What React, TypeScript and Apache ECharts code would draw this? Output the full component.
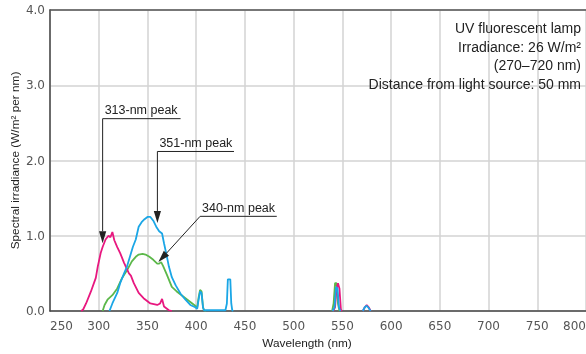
import React, { useEffect, useRef } from 'react';
import * as echarts from 'echarts';

// Wavelength (nm) and spectral irradiance (W/m² per nm)
const peak313Curve: [number, number][] = [
  [282, 0], [284, 0.02], [287, 0.1], [292, 0.26], [297, 0.44], [299, 0.59], [302, 0.77], [304, 0.85],
  [307, 0.95], [310, 1.0], [312, 0.98], [314, 1.05], [316, 0.94], [319, 0.85], [322, 0.77], [326, 0.64],
  [331, 0.5], [333, 0.47], [336, 0.37], [341, 0.24], [346, 0.17], [353, 0.1], [360, 0.08], [363, 0.1],
  [365, 0.16], [367, 0.06], [372, 0.01], [375, 0],
];
const peak313Line546: [number, number][] = [[540.5, 0], [542.5, 0.05], [544, 0.3], [545.5, 0.37], [547, 0.3], [548.5, 0.02], [549.5, 0]];
const peak313Line578: [number, number][] = [[571, 0], [573, 0.05], [575, 0.08], [577, 0.05], [579, 0]];

const peak351Curve: [number, number][] = [
  [311, 0], [314, 0.1], [319, 0.24], [322, 0.37], [326, 0.5], [329, 0.59], [332, 0.72], [335, 0.85],
  [338, 0.95], [341, 1.12], [344, 1.18], [347, 1.22], [350, 1.25], [353, 1.25], [356, 1.2], [359, 1.12],
  [362, 1.06], [365, 1.03], [367, 0.9], [370, 0.72], [372, 0.59], [375, 0.45], [379, 0.34], [384, 0.23],
  [389, 0.15], [394, 0.08], [399, 0.05], [401, 0.03], [402.5, 0.15], [404, 0.26], [405.5, 0.24],
  [407, 0.05], [408, 0.01], [430, 0.01], [431.5, 0.1], [432.5, 0.42], [435, 0.42], [436, 0.1],
  [437, 0.01], [438, 0],
];
const peak351Line546: [number, number][] = [[540, 0], [542, 0.05], [543.5, 0.32], [545, 0.3], [546.5, 0.05], [548, 0]];
const peak351Line578: [number, number][] = [[571, 0], [573, 0.05], [575, 0.07], [577, 0.04], [579, 0]];

const peak340Curve: [number, number][] = [
  [304, 0], [306, 0.08], [309, 0.15], [314, 0.21], [319, 0.3], [324, 0.44], [329, 0.54], [334, 0.66],
  [338, 0.72], [341, 0.75], [345, 0.76], [348, 0.75], [352, 0.72], [356, 0.68], [360, 0.63], [362, 0.63],
  [364, 0.65], [366, 0.6], [370, 0.48], [375, 0.32], [380, 0.26], [387, 0.19], [394, 0.12], [399, 0.07],
  [401, 0.04], [402.5, 0.18], [404, 0.28], [405.5, 0.26], [407, 0.05], [408, 0.01], [410, 0],
];
const peak340Line546: [number, number][] = [[539.5, 0], [541, 0.1], [542.5, 0.37], [544, 0.37], [545.5, 0.1], [547, 0]];

const infoLines = ['UV fluorescent lamp', 'Irradiance: 26 W/m²', '(270–720 nm)', 'Distance from light source: 50 mm'];

// callouts: text, start of the underline, end of the underline, arrow tip (data coords)
const callouts = [
  { text: '313-nm peak', from: [304, 2.556], to: [384, 2.556], tip: [304, 0.9] },
  { text: '351-nm peak', from: [360.2, 2.12], to: [438.8, 2.12], tip: [360.2, 1.17] },
  { text: '340-nm peak', from: [404, 1.258], to: [482.7, 1.258], tip: [361.2, 0.65] },
];

const MAGENTA = '#e8177f';
const CYAN = '#1aa6e6';
const GREEN = '#5cb84a';
const FONT = '"Liberation Sans", Arial, sans-serif';
const TICK_FONT = '"DejaVu Sans", sans-serif';

function lineSeries(data: [number, number][], color: string, z: number) {
  return {
    type: 'line',
    data,
    showSymbol: false,
    symbol: 'none',
    smooth: false,
    z,
    lineStyle: { color, width: 1.8 },
  };
}

export default function App() {
  const ref = useRef<HTMLDivElement>(null);
  useEffect(() => {
    if (!ref.current) return;
    const chart = echarts.init(ref.current, undefined, { renderer: 'svg' });
    chart.setOption({
      animation: false,
      grid: { left: 50, right: 0, top: 10, bottom: 43, containLabel: false, outerBoundsMode: 'none' },
      xAxis: [
        {
          type: 'value',
          min: 250,
          max: 800,
          interval: 50,
          name: 'Wavelength (nm)',
          nameLocation: 'middle',
          nameGap: 26,
          nameMoveOverlap: false,
          nameTextStyle: { fontFamily: FONT, fontSize: 11.8, color: '#222', padding: [0, 22, 0, 0] },
          axisLine: { show: true, onZero: false, lineStyle: { color: '#444', width: 1.5 } },
          axisTick: { show: false },
          axisLabel: {
            margin: 9,
            color: '#555',
            fontFamily: TICK_FONT,
            fontSize: 12,
            alignMinLabel: 'left',
            alignMaxLabel: 'right',
          },
          splitLine: { show: true, lineStyle: { color: '#d3d3d3', width: 1.5 } },
        },
        {
          type: 'value',
          position: 'top',
          min: 250,
          max: 800,
          axisLine: { show: true, onZero: false, lineStyle: { color: '#555', width: 1.5 } },
          axisTick: { show: false },
          axisLabel: { show: false },
          splitLine: { show: false },
        },
      ],
      yAxis: {
        type: 'value',
        min: 0,
        max: 4,
        interval: 1,
        name: 'Spectral irradiance (W/m² per nm)',
        nameLocation: 'middle',
        nameGap: 29,
        nameMoveOverlap: false,
        nameTextStyle: { fontFamily: FONT, fontSize: 11.8, color: '#222' },
        axisLine: { show: true, lineStyle: { color: '#444', width: 1.5 } },
        axisTick: { show: false },
        axisLabel: {
          margin: 5,
          color: '#555',
          fontFamily: TICK_FONT,
          fontSize: 12,
          formatter: (v: number) => v.toFixed(1),
        },
        splitLine: { show: true, lineStyle: { color: '#d3d3d3', width: 1.5 } },
      },
      series: [
        lineSeries(peak340Curve, GREEN, 2),
        lineSeries(peak340Line546, GREEN, 2),
        lineSeries(peak313Curve, MAGENTA, 3),
        lineSeries(peak313Line546, MAGENTA, 3),
        lineSeries(peak313Line578, MAGENTA, 3),
        lineSeries(peak351Curve, CYAN, 4),
        lineSeries(peak351Line546, CYAN, 4),
        lineSeries(peak351Line578, CYAN, 4),
      ],
    });

    const px = (p: number[]) => chart.convertToPixel({ gridIndex: 0 }, p) as number[];
    const graphics: any[] = [];
    callouts.forEach((c) => {
      const a = px(c.from);
      const b = px(c.to);
      const t = px(c.tip);
      graphics.push({
        type: 'line',
        shape: { x1: a[0], y1: a[1], x2: b[0], y2: b[1] },
        style: { stroke: '#222', lineWidth: 1 },
        z: 10,
      });
      const dx = t[0] - a[0];
      const dy = t[1] - a[1];
      const len = Math.hypot(dx, dy);
      const ux = dx / len;
      const uy = dy / len;
      const L = 12;
      const W = 3.6;
      const bx = t[0] - ux * L;
      const by = t[1] - uy * L;
      graphics.push({
        type: 'line',
        shape: { x1: a[0], y1: a[1], x2: bx, y2: by },
        style: { stroke: '#222', lineWidth: 1 },
        z: 10,
      });
      graphics.push({
        type: 'polygon',
        shape: {
          points: [
            [t[0], t[1]],
            [bx - uy * W, by + ux * W],
            [bx + uy * W, by - ux * W],
          ],
        },
        style: { fill: '#222' },
        z: 10,
      });
      graphics.push({
        type: 'text',
        x: a[0] + 2,
        y: a[1] - 2,
        style: {
          text: c.text,
          fill: '#222',
          font: `12.5px ${FONT}`,
          textAlign: 'left',
          textVerticalAlign: 'bottom',
        },
        z: 10,
      });
    });
    infoLines.forEach((line, i) => {
      graphics.push({
        type: 'text',
        x: 581,
        y: 28 + i * 18.7,
        style: {
          text: line,
          fill: '#222',
          font: `14px ${FONT}`,
          textAlign: 'right',
          textVerticalAlign: 'middle',
        },
        z: 10,
      });
    });
    chart.setOption({ graphic: graphics });
    return () => chart.dispose();
  }, []);
  return <div ref={ref} style={{ position: 'fixed', left: 0, top: 0, width: 586, height: 354 }} />;
}
